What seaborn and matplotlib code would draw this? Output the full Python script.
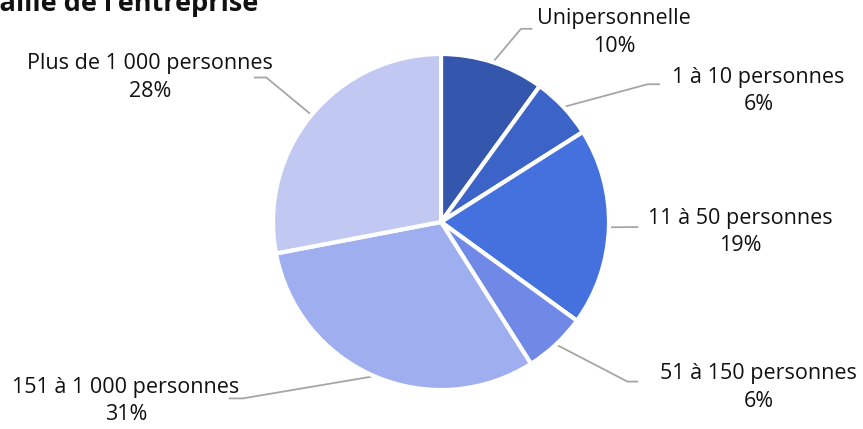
import matplotlib
matplotlib.use("Agg")
import matplotlib.pyplot as plt
import seaborn as sns
import numpy as np

# data
categories = ["Unipersonnelle", "1 à 10 personnes", "11 à 50 personnes",
              "51 à 150 personnes", "151 à 1 000 personnes", "Plus de 1 000 personnes"]
shares = [10, 6, 19, 6, 31, 28]
colors = ["#3456AD", "#3C63C7", "#4471DD", "#7089E7", "#9EAEEE", "#C1C9F3"]

# label centres and leader-line elbows, in pie-radius units (layout only)
label_pos = [(1.03, 1.13), (1.89, 0.78), (1.78, -0.06), (1.89, -0.985), (-1.875, -1.065), (-1.73, 0.86)]
elbows = [[(0.476, 1.15), (0.54, 1.15)],
          [(1.23, 0.82), (1.30, 0.82)],
          [(1.17, -0.03)],
          [(1.11, -0.95), (1.17, -0.95)],
          [(-1.18, -1.05), (-1.26, -1.05)],
          [(-1.04, 0.86), (-1.11, 0.86)]]

sns.set_theme(style="white")
plt.rcParams['font.family'] = ['Open Sans', 'DejaVu Sans']

W, H = 863, 429
fig = plt.figure(figsize=(W / 100, H / 100), dpi=100)
cx, cy, r = 441, 222, 168
ax = fig.add_axes([(cx - r) / W, (H - cy - r) / H, 2 * r / W, 2 * r / H])

wedges, _ = ax.pie(shares, colors=colors, startangle=90, counterclock=False,
                   radius=1, wedgeprops=dict(edgecolor="white", linewidth=3))
ax.set_xlim(-1, 1)
ax.set_ylim(-1, 1)
ax.set_aspect("equal")
ax.axis("off")

for w, cat, val, (lx, ly), pts in zip(wedges, categories, shares, label_pos, elbows):
    ang = np.deg2rad((w.theta1 + w.theta2) / 2)
    xs = [np.cos(ang)] + [p[0] for p in pts]
    ys = [np.sin(ang)] + [p[1] for p in pts]
    ax.plot(xs, ys, color="#A6A6A6", lw=1.3, clip_on=False, zorder=0)
    ax.text(lx, ly, f"{cat}\n{val}%", ha="center", va="center", fontsize=15.5,
            color="#111111", linespacing=1.42, clip_on=False)

fig.text(-14 / W, 1 - 11 / H, "Taille de l'entreprise", ha="left", va="baseline",
         fontsize=19.5, fontweight="bold", color="#111111")

fig.savefig("out.png", dpi=100)
